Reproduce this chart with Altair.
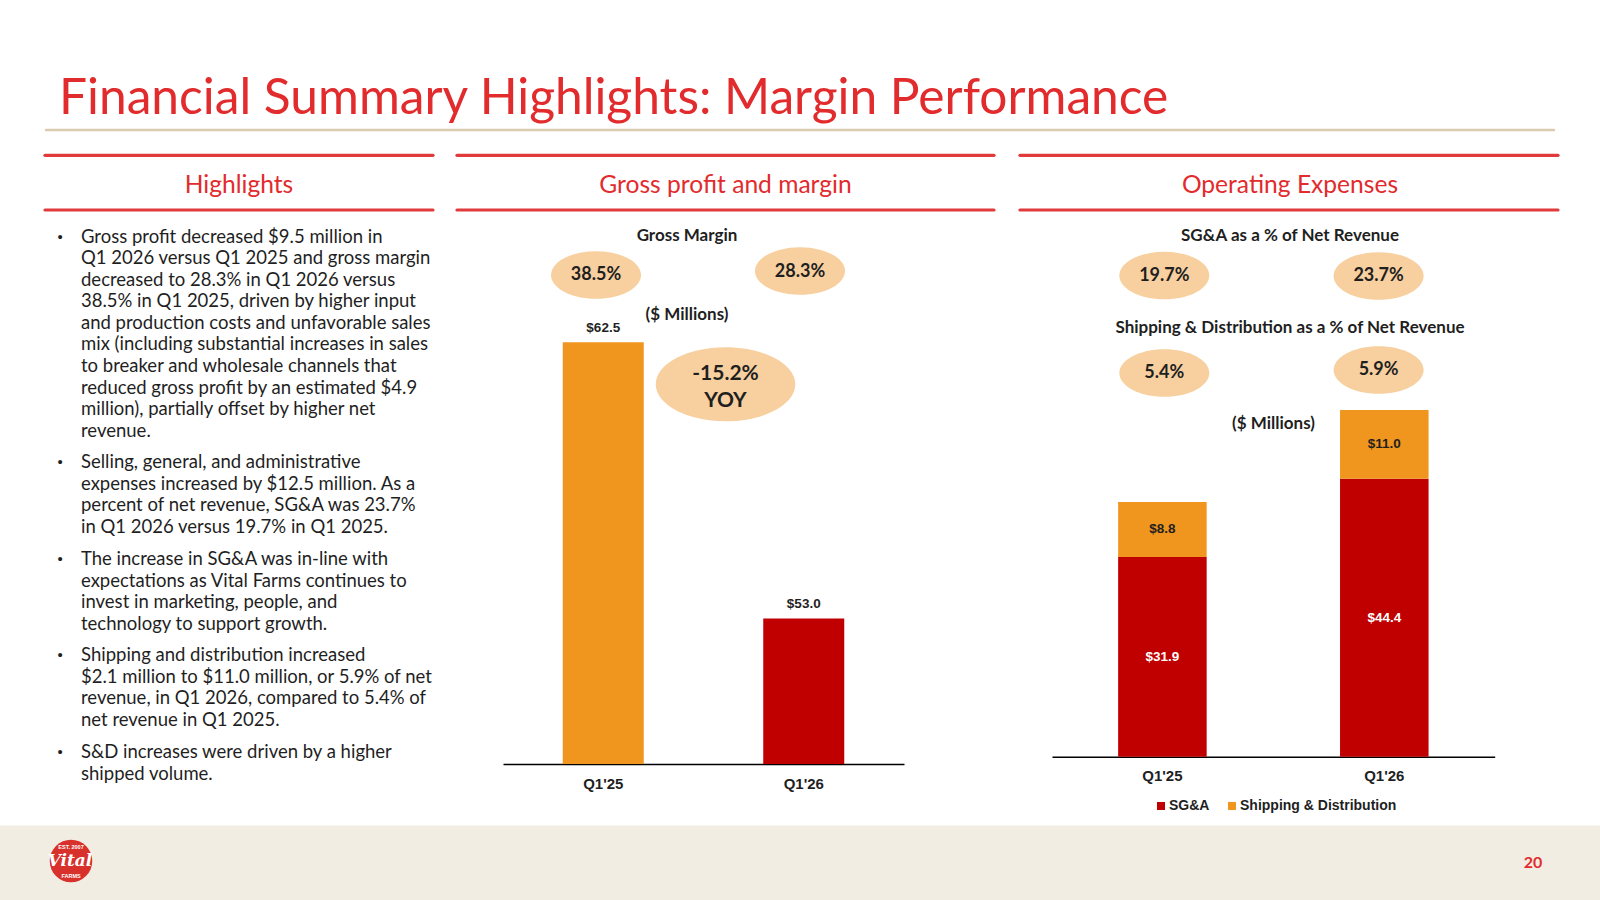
import altair as alt
import pandas as pd

# ---------------- data ----------------
GP_QUARTERS = ["Q1'25", "Q1'26"]
GP_VALUES = [62.5, 53.0]
GP_LABELS = ["$62.5", "$53.0"]
GP_AXIS_MIN = 48          # the original value axis is truncated
GP_MARGINS = ["38.5%", "28.3%"]
GP_YOY = ["-15.2%", "YOY"]

OPEX_QUARTERS = ["Q1'25", "Q1'26"]
OPEX_SERIES = ["SG&A", "Shipping & Distribution"]
SGA_VALUES = [31.9, 44.4]
SD_VALUES = [8.8, 11.0]
SGA_PCT = ["19.7%", "23.7%"]
SD_PCT = ["5.4%", "5.9%"]

TITLE = "Financial Summary Highlights: Margin Performance"
SECTIONS = ["Highlights", "Gross profit and margin", "Operating Expenses"]
BULLETS = [
    ["Gross profit decreased $9.5 million in",
     "Q1 2026 versus Q1 2025 and gross margin",
     "decreased to 28.3% in Q1 2026 versus",
     "38.5% in Q1 2025, driven by higher input",
     "and production costs and unfavorable sales",
     "mix (including substantial increases in sales",
     "to breaker and wholesale channels that",
     "reduced gross profit by an estimated $4.9",
     "million), partially offset by higher net",
     "revenue."],
    ["Selling, general, and administrative",
     "expenses increased by $12.5 million. As a",
     "percent of net revenue, SG&A was 23.7%",
     "in Q1 2026 versus 19.7% in Q1 2025."],
    ["The increase in SG&A was in-line with",
     "expectations as Vital Farms continues to",
     "invest in marketing, people, and",
     "technology to support growth."],
    ["Shipping and distribution increased",
     "$2.1 million to $11.0 million, or 5.9% of net",
     "revenue, in Q1 2026, compared to 5.4% of",
     "net revenue in Q1 2025."],
    ["S&D increases were driven by a higher",
     "shipped volume."],
]
PAGE = "20"

# ---------------- styles ----------------
W, H = 1600, 900
RED_T = "#E22B2D"
RED_LINE = "#E03A3C"
BEIGE_LINE = "#D9CCAF"
FOOT_BG = "#F2EDE3"
ORANGE = "#F0961E"
RED = "#C00000"
PEACH = "#F8D09F"
INK = "#1F1F1F"
CAL = "Lato"
ARIAL = "Liberation Sans"
ELLIPSE = "M -1 0 A 1 0.53 0 1 1 1 0 A 1 0.53 0 1 1 -1 0 Z"


def px(f):
    return alt.X(f"{f}:Q", scale=None, axis=None)


def py(f):
    return alt.Y(f"{f}:Q", scale=None, axis=None)


def texts(rows, **mark):
    df = pd.DataFrame(rows, columns=["x", "y", "t"])
    return alt.Chart(df).mark_text(**mark).encode(x=px("x"), y=py("y"), text="t:N")


layers = []

# footer band
layers.append(alt.Chart(pd.DataFrame({"a": [0]})).mark_rect(color=FOOT_BG).encode(
    x=alt.value(0), x2=alt.value(W), y=alt.value(825.5), y2=alt.value(H)))

# rules
rules = pd.DataFrame([
    dict(x=46, x2=1554, y=130, c=BEIGE_LINE, w=2.5),
    dict(x=45, x2=433, y=155.3, c=RED_LINE, w=3.2),
    dict(x=457, x2=994, y=155.3, c=RED_LINE, w=3.2),
    dict(x=1020, x2=1558, y=155.3, c=RED_LINE, w=3.2),
    dict(x=45, x2=433, y=210, c=RED_LINE, w=3.2),
    dict(x=457, x2=994, y=210, c=RED_LINE, w=3.2),
    dict(x=1020, x2=1558, y=210, c=RED_LINE, w=3.2),
])
layers.append(alt.Chart(rules).mark_rule(strokeCap="round").encode(
    x=px("x"), x2="x2:Q", y=py("y"),
    color=alt.Color("c:N", scale=None, legend=None),
    strokeWidth=alt.StrokeWidth("w:Q", scale=None, legend=None)))

# title & section headers
layers.append(texts([(59, 113.5, TITLE)], font=CAL, fontSize=49.7, color=RED_T,
                    align="left", baseline="alphabetic"))
layers.append(texts([(239, 186, SECTIONS[0]), (725.5, 186, SECTIONS[1]), (1290, 186, SECTIONS[2])],
                    font=CAL, fontSize=24.6, color=RED_T, align="center", baseline="middle"))

# bullets
starts = [236.7, 462.2, 559.1, 655.1, 752.0]
LS = 21.55
brows, dots = [], []
for s, para in zip(starts, BULLETS):
    dots.append((60, s, "•"))
    for i, line in enumerate(para):
        brows.append((81, s + i * LS, line))
layers.append(texts(brows, font=CAL, fontSize=18.5, color=INK, align="left", baseline="middle"))
layers.append(texts(dots, font=ARIAL, fontSize=15, color=INK, align="center", baseline="middle"))

# ellipses
ell = pd.DataFrame([
    dict(x=596, y=275, s=90 ** 2), dict(x=800, y=271, s=90 ** 2),
    dict(x=725.5, y=384.3, s=139.5 ** 2),
    dict(x=1164.3, y=275.5, s=90 ** 2), dict(x=1378.6, y=276, s=90 ** 2),
    dict(x=1164.3, y=373, s=90 ** 2), dict(x=1378.6, y=370, s=90 ** 2),
])
layers.append(alt.Chart(ell).mark_point(shape=ELLIPSE, filled=True, color=PEACH, opacity=1,
                                        strokeWidth=0).encode(
    x=px("x"), y=py("y"), size=alt.Size("s:Q", scale=None, legend=None)))

# chart annotations (Calibri-like bold)
layers.append(texts([(687, 235.5, "Gross Margin"), (687, 315, "($ Millions)"),
                     (1290, 235.5, "SG&A as a % of Net Revenue"),
                     (1290, 328, "Shipping & Distribution as a % of Net Revenue"),
                     (1273.5, 424, "($ Millions)")],
                    font=CAL, fontSize=17, fontWeight="bold", color=INK, align="center",
                    baseline="middle"))
layers.append(texts([(596, 275, GP_MARGINS[0]), (800, 271.5, GP_MARGINS[1]),
                     (1164.3, 275.5, SGA_PCT[0]), (1378.6, 276, SGA_PCT[1]),
                     (1164.3, 373, SD_PCT[0]), (1378.6, 370, SD_PCT[1])],
                    font=CAL, fontSize=18, fontWeight="bold", color=INK, align="center",
                    baseline="middle"))
layers.append(texts([(725.5, 374, GP_YOY[0]), (725.5, 401, GP_YOY[1])],
                    font=CAL, fontSize=21, fontWeight="bold", color=INK, align="center",
                    baseline="middle"))

# logo and page number
layers.append(alt.Chart(pd.DataFrame({"x": [71], "y": [861]})).mark_point(
    shape="circle", filled=True, color="#D8302B", opacity=1, size=1810).encode(x=px("x"), y=py("y")))
layers.append(texts([(70, 861, "Vital")], font="DejaVu Serif", fontSize=17, fontStyle="italic",
                    fontWeight="bold", color="white", align="center", baseline="middle"))
layers.append(texts([(71, 876, "FARMS"), (71, 846.5, "EST. 2007")], font=ARIAL, fontSize=5.5,
                    fontWeight="bold", color="white", align="center", baseline="middle"))
layers.append(texts([(1533, 863, PAGE)], font=CAL, fontSize=16, fontWeight="bold", color=RED_T,
                    align="center", baseline="middle"))

# ---------------- gross profit chart ----------------
gp_df = pd.DataFrame({"q": GP_QUARTERS, "v": GP_VALUES, "lab": GP_LABELS})
axis_common = dict(title=None, labelAngle=0, ticks=False, tickSize=0, grid=False,
                   labelFont=ARIAL, labelFontWeight="bold", labelFontSize=15, labelColor=INK,
                   labelPadding=12, domainColor="#000000", domainWidth=1.5, orient="bottom")
xg = alt.X("q:N", sort=GP_QUARTERS,
           scale=alt.Scale(range=[503, 904], paddingInner=0.596, paddingOuter=0.298),
           axis=alt.Axis(offset=764 - H, **axis_common))
yg = alt.Y("v:Q", scale=alt.Scale(domain=[GP_AXIS_MIN, 64], range=[764, 298.7], zero=False, nice=False),
           axis=None)
gp_bars = alt.Chart(gp_df).mark_bar().encode(
    x=xg, y=yg, y2=alt.datum(GP_AXIS_MIN),
    color=alt.Color("q:N", scale=alt.Scale(domain=GP_QUARTERS, range=[ORANGE, RED]), legend=None))
gp_labels = alt.Chart(gp_df).mark_text(dy=-14.5, font=ARIAL, fontWeight="bold", fontSize=13.5,
                                       color=INK, baseline="middle").encode(x=xg, y=yg, text="lab:N")
gp = alt.layer(gp_bars, gp_labels)

# ---------------- operating expenses chart ----------------
rows = []
for q, a, b in zip(OPEX_QUARTERS, SGA_VALUES, SD_VALUES):
    rows.append(dict(q=q, s=OPEX_SERIES[0], v=a, start=0, end=a, mid=a / 2, lab=f"${a:.1f}"))
    rows.append(dict(q=q, s=OPEX_SERIES[1], v=b, start=a, end=a + b, mid=a + b / 2, lab=f"${b:.1f}"))
op_df = pd.DataFrame(rows)
xo = alt.X("q:N", sort=OPEX_QUARTERS,
           scale=alt.Scale(range=[1052, 1494.7], paddingInner=0.601, paddingOuter=0.298),
           axis=alt.Axis(offset=756.7 - H, **axis_common))
yscale = alt.Scale(domain=[0, 60], range=[756.7, 756.7 - 60 * 6.26], nice=False)
op_bars = alt.Chart(op_df).mark_bar().encode(
    x=xo, y=alt.Y("start:Q", scale=yscale, axis=None), y2="end:Q",
    color=alt.Color("s:N", scale=alt.Scale(domain=OPEX_SERIES, range=[RED, ORANGE]),
                    legend=alt.Legend(orient="none", legendX=1154, legendY=799, direction="horizontal",
                                      title=None, symbolType="square", symbolSize=64,
                                      symbolStrokeWidth=0, labelFont=ARIAL, labelFontWeight="bold",
                                      labelFontSize=14, labelColor=INK, columnPadding=15,
                                      labelOffset=1, padding=0)))
op_labels = alt.Chart(op_df).mark_text(font=ARIAL, fontWeight="bold", fontSize=13.5,
                                       baseline="middle").encode(
    x=xo, y=alt.Y("mid:Q", scale=yscale, axis=None), text="lab:N",
    color=alt.condition(alt.datum.s == OPEX_SERIES[0], alt.value("white"), alt.value(INK)))
op = alt.layer(op_bars, op_labels)

chart = alt.layer(*layers, gp, op).resolve_scale(
    x="independent", y="independent", color="independent"
).properties(
    width=W, height=H, autosize=alt.AutoSizeParams(type="none"), padding=0, background="white"
).configure_view(stroke=None)

chart.save("out.html", embed_options={"renderer": "svg", "actions": False})
